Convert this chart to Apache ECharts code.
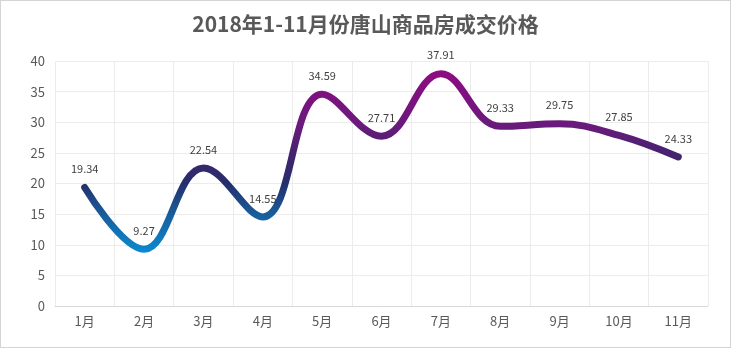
<!DOCTYPE html>
<html><head><meta charset="utf-8">
<script src="https://cdn.jsdelivr.net/npm/echarts@6/dist/echarts.min.js"></script>
<style>html,body{margin:0;padding:0;background:#fff}#c{width:731px;height:348px;box-sizing:border-box;border:1px solid #d4d4d4}</style>
</head><body><div id="c"></div>
<script>
const months = ['1月','2月','3月','4月','5月','6月','7月','8月','9月','10月','11月'];
const prices = [19.34, 9.27, 22.54, 14.55, 34.59, 27.71, 37.91, 29.33, 29.75, 27.85, 24.33];
const titleText = '2018年1-11月份唐山商品房成交价格';
const yMin = 0, yMax = 40, yStep = 5;

const chart = echarts.init(document.getElementById('c'), null, {renderer:'canvas'});
const font = '"Noto Sans CJK SC", "Microsoft YaHei", sans-serif';
chart.setOption({
  animation:false,
  title:{text:titleText,left:'center',top:8,textStyle:{fontFamily:font,fontSize:21,fontWeight:'bold',color:'#595959'}},
  grid:{left:54,right:22,top:60,bottom:41},
  xAxis:{type:'category',data:months,boundaryGap:true,
    axisLine:{lineStyle:{color:'#d9d9d9'}},axisTick:{show:false},
    axisLabel:{color:'#595959',fontSize:13,fontFamily:font,margin:9},
    splitLine:{show:true,lineStyle:{color:'#ececec'}}},
  yAxis:{type:'value',min:yMin,max:yMax,interval:yStep,
    axisLine:{show:false},axisTick:{show:false},
    axisLabel:{color:'#595959',fontSize:13,fontFamily:font,margin:10},
    splitLine:{lineStyle:{color:'#ececec'}}},
  series:[{type:'line',data:prices,smooth:0.4,symbol:'circle',symbolSize:2,showSymbol:true,
    itemStyle:{color:'rgba(0,0,0,0)'},
    lineStyle:{width:7,cap:'round',join:'round',color:new echarts.graphic.LinearGradient(0,1,0,0,[
      {offset:0,color:'#0a8ad2'},
      {offset:0.2,color:'#17609e'},
      {offset:0.38,color:'#252e6c'},
      {offset:0.55,color:'#46226f'},
      {offset:0.7,color:'#6a1a7c'},
      {offset:1,color:'#8e0c82'}])},
    label:{show:true,position:'top',distance:12,color:'#404040',fontSize:11,fontFamily:font,
      formatter:p=>p.value.toFixed(2)},
    labelLayout:{hideOverlap:false}
  }]
});
</script></body></html>
